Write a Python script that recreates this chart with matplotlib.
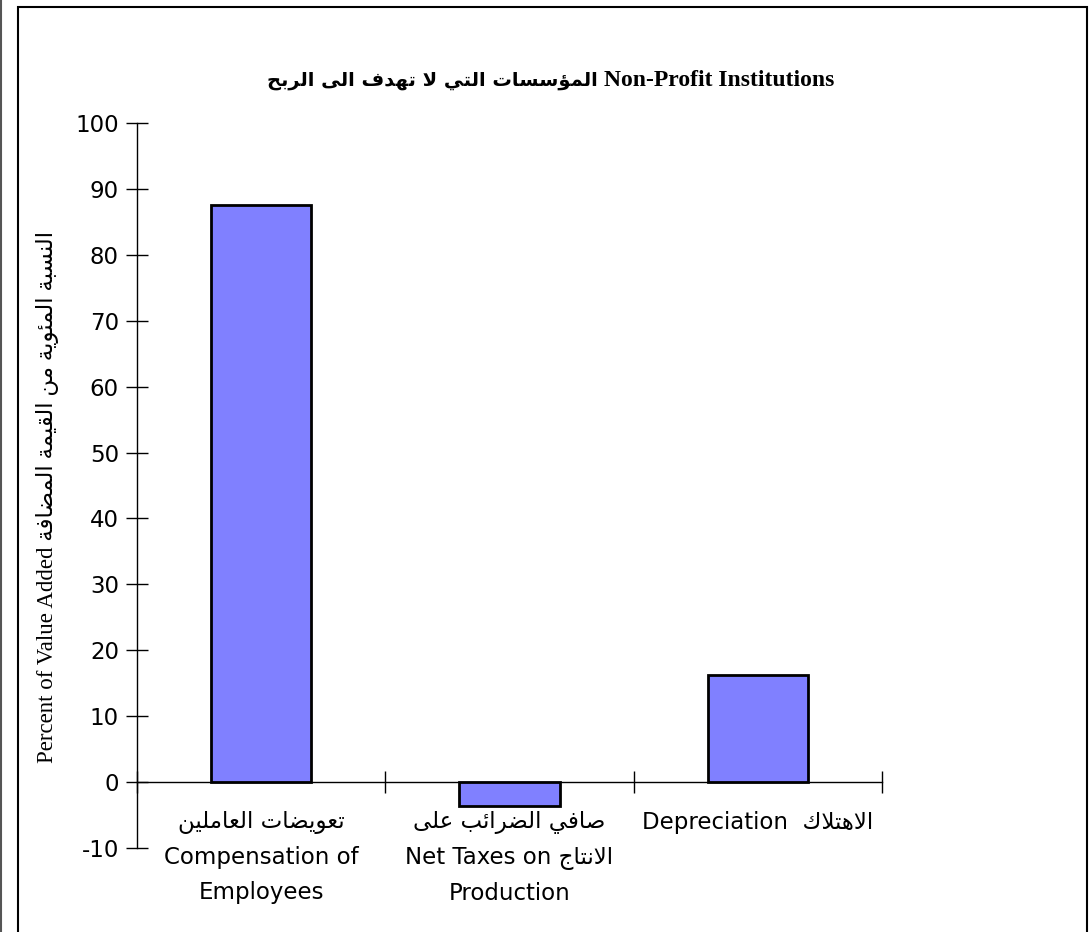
import matplotlib
matplotlib.use("Agg")
import matplotlib.pyplot as plt
from matplotlib.patches import Rectangle
from matplotlib.lines import Line2D

# ---------------- data ----------------
title_en = "Non-Profit Institutions"
title_ar = "المؤسسات التي لا تهدف الى الربح"
ylabel_en = "Percent of Value Added"
ylabel_ar = "النسبة المئوية من القيمة المضافة"
cat_en = ["Compensation of\nEmployees", "Net Taxes on", "Depreciation"]
cat_ar = ["تعويضات العاملين", "صافي الضرائب على", "الاهتلاك"]
cat2_ar_line2 = "الانتاج"
cat2_en_line3 = "Production"
values = [87.5, -3.6, 16.2]
yticks = [-10, 0, 10, 20, 30, 40, 50, 60, 70, 80, 90, 100]

# ------------- minimal Arabic shaping (presentation forms, visual order) -------------
ARABIC = {
    '\u0621': (0xFE80, 0), '\u0622': (0xFE81, 1), '\u0623': (0xFE83, 1), '\u0624': (0xFE85, 1),
    '\u0625': (0xFE87, 1), '\u0626': (0xFE89, 2), '\u0627': (0xFE8D, 1), '\u0628': (0xFE8F, 2),
    '\u0629': (0xFE93, 1), '\u062A': (0xFE95, 2), '\u062B': (0xFE99, 2), '\u062C': (0xFE9D, 2),
    '\u062D': (0xFEA1, 2), '\u062E': (0xFEA5, 2), '\u062F': (0xFEA9, 1), '\u0630': (0xFEAB, 1),
    '\u0631': (0xFEAD, 1), '\u0632': (0xFEAF, 1), '\u0633': (0xFEB1, 2), '\u0634': (0xFEB5, 2),
    '\u0635': (0xFEB9, 2), '\u0636': (0xFEBD, 2), '\u0637': (0xFEC1, 2), '\u0638': (0xFEC5, 2),
    '\u0639': (0xFEC9, 2), '\u063A': (0xFECD, 2), '\u0641': (0xFED1, 2), '\u0642': (0xFED5, 2),
    '\u0643': (0xFED9, 2), '\u0644': (0xFEDD, 2), '\u0645': (0xFEE1, 2), '\u0646': (0xFEE5, 2),
    '\u0647': (0xFEE9, 2), '\u0648': (0xFEED, 1), '\u0649': (0xFEEF, 1), '\u064A': (0xFEF1, 2),
}
LAM_ALEF = {'\u0622': 0xFEF5, '\u0623': 0xFEF7, '\u0625': 0xFEF9, '\u0627': 0xFEFB}


def ar(text):
    out = []
    n = len(text)
    i = 0
    while i < n:
        c = text[i]
        if c not in ARABIC:
            out.append(c)
            i += 1
            continue
        prev = text[i - 1] if i > 0 else None
        nxt = text[i + 1] if i + 1 < n else None
        jp = prev in ARABIC and ARABIC[prev][1] == 2
        if i > 1 and prev in LAM_ALEF and text[i - 2] == '\u0644':
            jp = False
        if c == '\u0644' and nxt in LAM_ALEF:
            out.append(chr(LAM_ALEF[nxt] + (1 if jp else 0)))
            i += 2
            continue
        base, t = ARABIC[c]
        jn = t == 2 and nxt in ARABIC and ARABIC[nxt][1] != 0
        if t == 0:
            form = base
        elif t == 1:
            form = base + (1 if jp else 0)
        else:
            form = base + (3 if (jp and jn) else 1 if jp else 2 if jn else 0)
        out.append(chr(form))
        i += 1
    return ''.join(reversed(out))


# ---------------- figure ----------------
W, H = 1092, 932
fig = plt.figure(figsize=(W / 100, H / 100), dpi=100)
fig.patch.set_facecolor("white")

# outer frame decoration
fig.add_artist(Line2D([1 / W, 1 / W], [0, 1], transform=fig.transFigure, color="#555555", lw=1.5))
fig.add_artist(Rectangle((18 / W, -0.01), (1087 - 18) / W, (H - 7) / H + 0.01,
                         transform=fig.transFigure, fill=False, edgecolor="black", lw=1.5))

ax_l, ax_r = 137 / W, 882 / W
ax_b, ax_t = (H - 848) / H, (H - 123) / H
ax = fig.add_axes([ax_l, ax_b, ax_r - ax_l, ax_t - ax_b])

x = [0.5, 1.5, 2.5]
ax.bar(x, values, width=0.405, color="#8080FF", edgecolor="black", linewidth=2, zorder=3)

ax.set_xlim(0, 3)
ax.set_ylim(-10, 100)

for s in ["top", "right"]:
    ax.spines[s].set_visible(False)
ax.spines["bottom"].set_position(("data", 0))
ax.spines["left"].set_linewidth(1)
ax.spines["bottom"].set_linewidth(1)

ax.set_yticks(yticks)
ax.set_yticklabels([str(v) for v in yticks], fontsize=16.5, family="DejaVu Sans")
ax.tick_params(axis="y", direction="inout", length=16, width=1, pad=5)

ax.set_xticks([0, 1, 2, 3])
ax.set_xticklabels([])
ax.tick_params(axis="x", which="major", direction="inout", length=16, width=1)

labels = [
    ar(cat_ar[0]) + "\n" + cat_en[0],
    ar(cat_ar[1]) + "\n" + cat_en[1] + " " + ar(cat2_ar_line2) + "\n" + cat2_en_line3,
    cat_en[2] + "  " + ar(cat_ar[2]),
]
ax.set_xticks(x, labels, minor=True)
ax.tick_params(axis="x", which="minor", length=0, pad=21)
for lab in ax.get_xticklabels(minor=True):
    lab.set_fontsize(16.5)
    lab.set_family("DejaVu Sans")
    lab.set_linespacing(1.65)
    lab.set_verticalalignment("top")

# title: Arabic part (left) + English part (right), centred together
ty = (H - 81) / H
t_ar = fig.text(0, ty, ar(title_ar), ha="left", va="center", fontsize=14,
                fontweight="bold", family=["DejaVu Sans"])
t_en = fig.text(0, ty, title_en, ha="left", va="center", fontsize=17,
                fontweight="bold", family=["Liberation Serif"])
renderer = fig.canvas.get_renderer()
w_ar = t_ar.get_window_extent(renderer).width
w_en = t_en.get_window_extent(renderer).width
gap = 6
total = w_ar + gap + w_en
x0 = 551 - total / 2
t_ar.set_x(x0 / W)
t_en.set_x((x0 + w_ar + gap) / W)

fig.text(48 / W, (H - 497) / H, ylabel_en + " " + ar(ylabel_ar), rotation=90,
         ha="center", va="center", fontsize=16.5,
         family=["Liberation Serif", "DejaVu Sans"])

fig.savefig("out.png", dpi=100, facecolor="white")
